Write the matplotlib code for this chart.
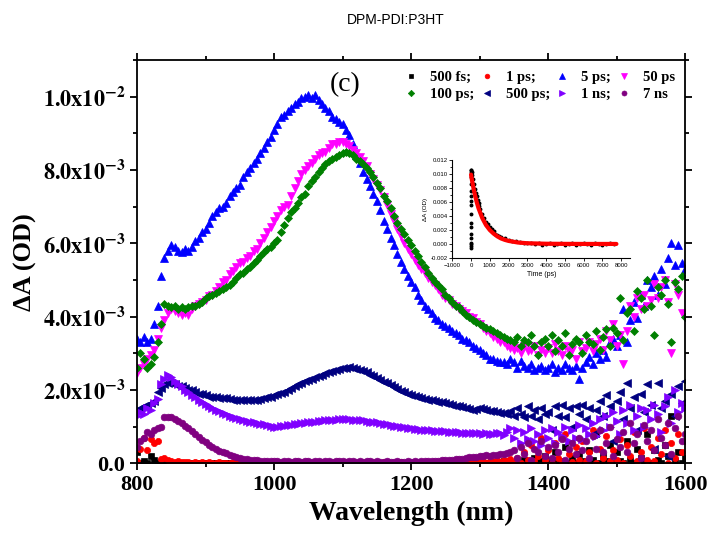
import numpy as np
import matplotlib
matplotlib.use('Agg')
import matplotlib.pyplot as plt
from matplotlib.ticker import MultipleLocator, FuncFormatter

### data (dA in units of 1e-3 OD) ###############################

wavelength = np.arange(800, 1605, 5)

a_500fs = [
    0.3, 0.02, 0.05, 0.0, 0.2, 0.08, 0.0, 0.03, 0.01, 0.0,
    0.0, 0.01, 0.0, 0.0, 0.01, 0.0, 0.0, 0.01, 0.0, 0.0,
    0.0, 0.0, 0.01, 0.0, 0.0, 0.0, 0.01, 0.0, 0.0, 0.0,
    0.0, 0.0, 0.0, 0.01, 0.0, 0.0, 0.0, 0.0, 0.01, 0.0,
    0.0, 0.0, 0.0, 0.0, 0.0, 0.01, 0.0, 0.0, 0.0, 0.0,
    0.0, 0.01, 0.0, 0.0, 0.0, 0.0, 0.0, 0.01, 0.0, 0.0,
    0.0, 0.0, 0.0, 0.0, 0.01, 0.0, 0.0, 0.0, 0.0, 0.0,
    0.0, 0.0, 0.01, 0.0, 0.0, 0.0, 0.0, 0.0, 0.01, 0.0,
    0.0, 0.0, 0.0, 0.0, 0.0, 0.01, 0.0, 0.0, 0.0, 0.0,
    0.01, 0.0, 0.0, 0.0, 0.0, 0.0, 0.02, 0.0, 0.0, 0.0,
    0.0, 0.02, 0.0, 0.0, 0.03, 0.0, 0.0, 0.05, 0.0, 0.02,
    0.0, 0.05, 0.0, 0.1, 0.02, 0.0, 0.15, 0.0, 0.05, 0.2,
    0.0, 0.1, 0.3, 0.0, 0.05, 0.45, 0.0, 0.15, 0.0, 0.25,
    0.05, 0.0, 0.35, 0.1, 0.8, 0.0, 0.2, 0.05, 0.5, 0.0,
    0.3, 0.05, 0.0, 0.6, 0.1, 0.0, 0.4, 0.15, 0.05, 0.8,
    0.0, 0.35, 0.1, 0.0, 0.5, 0.2, 1.3, 0.05, 0.3, 0.0,
    0.15]

a_1ps = [
    0.05, 0.4, 0.7, 0.35, 0.65, 0.55, 0.6, 0.12, 0.15, 0.1,
    0.06, 0.04, 0.05, 0.03, 0.04, 0.03, 0.02, 0.03, 0.02, 0.03,
    0.02, 0.03, 0.02, 0.02, 0.03, 0.02, 0.01, 0.02, 0.03, 0.02,
    0.02, 0.01, 0.02, 0.03, 0.02, 0.02, 0.01, 0.02, 0.02, 0.03,
    0.02, 0.02, 0.01, 0.02, 0.03, 0.02, 0.02, 0.01, 0.02, 0.02,
    0.03, 0.02, 0.01, 0.02, 0.02, 0.03, 0.02, 0.02, 0.01, 0.02,
    0.02, 0.03, 0.02, 0.01, 0.02, 0.02, 0.02, 0.03, 0.02, 0.01,
    0.02, 0.02, 0.03, 0.02, 0.02, 0.01, 0.02, 0.03, 0.02, 0.02,
    0.01, 0.02, 0.02, 0.03, 0.02, 0.02, 0.01, 0.02, 0.03, 0.02,
    0.02, 0.03, 0.02, 0.02, 0.04, 0.02, 0.03, 0.02, 0.04, 0.03,
    0.03, 0.05, 0.02, 0.06, 0.04, 0.08, 0.03, 0.1, 0.05, 0.12,
    0.04, 0.15, 0.02, 0.3, 0.08, 0.5, 0.05, 0.2, 0.7, 0.1,
    0.35, 0.02, 0.55, 0.15, 0.05, 0.8, 0.25, 0.03, 0.45, 0.1,
    0.6, 0.05, 0.3, 0.9, 0.02, 0.4, 0.15, 0.75, 0.05, 0.35,
    0.1, 0.65, 0.02, 0.5, 0.2, 0.85, 0.05, 0.3, 0.95, 0.1,
    0.45, 0.05, 0.7, 0.25, 0.9, 0.02, 0.55, 0.15, 0.8, 0.3,
    0.6]

a_5ps = [
    3.4, 3.3, 3.45, 3.3, 3.4, 3.8, 4.3, 5.1, 5.6, 5.8,
    5.95, 5.9, 5.8, 5.75, 5.85, 5.8, 5.9, 6.05, 6.15, 6.3,
    6.4, 6.55, 6.75, 6.85, 6.95, 7.0, 7.1, 7.3, 7.4, 7.5,
    7.6, 7.8, 7.95, 8.05, 8.2, 8.3, 8.45, 8.6, 8.75, 8.9,
    9.1, 9.25, 9.45, 9.5, 9.6, 9.7, 9.8, 9.85, 9.95, 10.0,
    10.05, 9.95, 10.05, 9.9, 9.8, 9.7, 9.6, 9.45, 9.4, 9.3,
    9.25, 9.1, 8.95, 8.7, 8.4, 8.2, 7.95, 7.75, 7.55, 7.35,
    7.15, 6.9, 6.6, 6.4, 6.15, 5.95, 5.7, 5.5, 5.3, 5.1,
    4.95, 4.8, 4.6, 4.45, 4.3, 4.2, 4.1, 3.95, 3.9, 3.8,
    3.75, 3.7, 3.6, 3.55, 3.5, 3.4, 3.35, 3.3, 3.2, 3.15,
    3.1, 3.0, 2.95, 2.85, 2.85, 2.8, 2.75, 2.75, 2.7, 2.85,
    2.75, 2.6, 2.8, 2.65, 2.6, 2.7, 2.55, 2.6, 2.65, 2.55,
    2.6, 2.7, 2.5, 2.6, 2.55, 2.7, 2.6, 2.55, 2.65, 2.3,
    2.6, 2.75, 2.9, 2.7, 3.0, 2.85, 3.1, 2.9, 3.3, 3.4,
    3.2, 3.5, 4.2, 3.3, 3.9, 4.4, 3.95, 4.6, 4.3, 5.0,
    4.8, 5.1, 4.6, 5.3, 4.9, 5.6, 6.0, 5.4, 5.95, 5.45,
    5.3]

a_50ps = [
    2.45, 2.6, 2.7, 2.85, 2.95, 3.1, 3.4, 3.7, 3.9, 4.1,
    4.2, 4.15, 4.1, 4.05, 4.1, 4.05, 4.2, 4.3, 4.35, 4.4,
    4.45, 4.55, 4.6, 4.7, 4.8, 4.95, 5.0, 5.15, 5.25, 5.35,
    5.45, 5.5, 5.6, 5.65, 5.8, 5.85, 6.0, 6.15, 6.3, 6.45,
    6.6, 6.75, 6.9, 7.0, 7.05, 7.3, 7.5, 7.7, 7.9, 8.0,
    8.1, 8.2, 8.3, 8.4, 8.45, 8.5, 8.6, 8.7, 8.7, 8.75,
    8.75, 8.7, 8.65, 8.55, 8.45, 8.35, 8.25, 8.1, 7.9, 7.75,
    7.6, 7.45, 7.25, 7.05, 6.8, 6.6, 6.4, 6.2, 6.0, 5.85,
    5.7, 5.55, 5.4, 5.3, 5.2, 5.05, 4.95, 4.85, 4.75, 4.6,
    4.5, 4.45, 4.35, 4.3, 4.2, 4.15, 4.1, 4.0, 3.95, 3.85,
    3.8, 3.7, 3.6, 3.55, 3.45, 3.4, 3.3, 3.3, 3.2, 3.15,
    3.1, 3.15, 3.0, 3.2, 3.05, 3.1, 3.2, 2.95, 3.1, 3.0,
    3.15, 3.0, 3.25, 3.05, 2.95, 3.2, 3.05, 3.1, 2.85, 3.3,
    3.05, 3.15, 3.3, 3.05, 3.25, 3.4, 3.1, 3.6, 3.35, 3.8,
    3.2, 3.5, 2.7, 3.6, 4.3, 4.0, 4.5, 4.2, 4.6, 4.3,
    4.45, 4.9, 4.5, 4.8, 5.0, 4.4, 3.0, 4.9, 4.6, 4.1,
    4.0]

a_100ps = [
    2.6, 3.0, 2.85, 2.6, 2.7, 2.9, 3.3, 3.8, 4.35, 4.3,
    4.25, 4.3, 4.2, 4.25, 4.2, 4.25, 4.3, 4.3, 4.35, 4.4,
    4.5, 4.55, 4.6, 4.65, 4.7, 4.75, 4.8, 4.85, 4.95, 5.05,
    5.15, 5.2, 5.3, 5.35, 5.45, 5.55, 5.65, 5.75, 5.85, 5.9,
    6.0, 6.1, 6.3, 6.5, 6.7, 6.85, 6.95, 7.1, 7.25, 7.35,
    7.55, 7.7, 7.8, 7.95, 8.05, 8.15, 8.25, 8.3, 8.35, 8.4,
    8.45, 8.5, 8.45, 8.4, 8.3, 8.25, 8.15, 8.05, 7.95, 7.8,
    7.65, 7.5, 7.3, 7.15, 6.95, 6.75, 6.55, 6.4, 6.25, 6.1,
    5.95, 5.8, 5.65, 5.5, 5.35, 5.2, 5.05, 4.95, 4.85, 4.75,
    4.6, 4.5, 4.4, 4.3, 4.25, 4.15, 4.05, 4.0, 3.9, 3.85,
    3.8, 3.75, 3.7, 3.65, 3.6, 3.55, 3.5, 3.45, 3.4, 3.35,
    3.3, 3.45, 3.2, 3.35, 3.3, 3.5, 3.2, 2.95, 3.3, 3.4,
    3.2, 3.5, 3.05, 3.35, 3.2, 3.55, 2.95, 3.25, 3.4, 3.3,
    3.0, 3.5, 3.3, 3.25, 3.6, 3.1, 3.45, 3.65, 3.2, 3.7,
    3.55, 4.5, 3.35, 4.1, 4.2, 3.6, 4.7, 4.5, 4.2, 5.0,
    4.3, 3.5, 4.8, 4.6, 5.0, 4.35, 3.3, 4.95, 4.75, 5.1,
    4.0]

a_500ps = [
    1.45, 1.5, 1.55, 1.6, 1.65, 1.7, 1.95, 2.05, 2.15, 2.2,
    2.2, 2.15, 2.1, 2.1, 2.05, 2.0, 2.0, 1.95, 1.9, 1.9,
    1.85, 1.82, 1.8, 1.8, 1.78, 1.77, 1.77, 1.75, 1.74, 1.73,
    1.73, 1.72, 1.73, 1.72, 1.73, 1.73, 1.75, 1.77, 1.8, 1.82,
    1.85, 1.88, 1.92, 1.95, 2.0, 2.05, 2.1, 2.15, 2.2, 2.25,
    2.28, 2.3, 2.35, 2.38, 2.42, 2.45, 2.5, 2.53, 2.55, 2.58,
    2.6, 2.6, 2.62, 2.6, 2.58, 2.55, 2.52, 2.48, 2.42, 2.37,
    2.32, 2.27, 2.22, 2.18, 2.14, 2.08, 2.03, 1.98, 1.95, 1.9,
    1.87, 1.84, 1.82, 1.79, 1.76, 1.74, 1.72, 1.7, 1.68, 1.66,
    1.64, 1.62, 1.6, 1.57, 1.55, 1.53, 1.5, 1.48, 1.46, 1.48,
    1.5, 1.47, 1.45, 1.43, 1.42, 1.4, 1.38, 1.37, 1.35, 1.42,
    1.3, 1.5, 1.35, 1.25, 1.55, 1.3, 1.45, 1.2, 1.5, 1.35,
    1.4, 0.9, 1.55, 1.3, 1.6, 1.25, 1.5, 1.0, 1.55, 1.35,
    1.6, 1.2, 1.5, 0.8, 1.45, 1.7, 1.3, 1.85, 1.55, 0.6,
    1.7, 1.95, 1.2, 2.2, 1.5, 1.8, 0.9, 1.9, 1.4, 2.15,
    1.6, 0.4, 2.2, 1.5, 1.7, 0.2, 1.9, 1.3, 2.1, 1.65,
    2.25]

a_1ns = [
    1.3, 1.4, 1.35, 1.5, 1.45, 1.65, 1.75, 2.15, 2.3, 2.4,
    2.35, 2.25, 2.15, 2.1, 2.0, 1.95, 1.85, 1.8, 1.72, 1.68,
    1.62, 1.55, 1.5, 1.45, 1.42, 1.38, 1.35, 1.3, 1.27, 1.24,
    1.21, 1.18, 1.16, 1.14, 1.12, 1.1, 1.08, 1.06, 1.04, 1.02,
    1.0, 1.0, 1.02, 1.02, 1.04, 1.05, 1.07, 1.08, 1.09, 1.1,
    1.12, 1.13, 1.14, 1.15, 1.15, 1.17, 1.18, 1.18, 1.19, 1.2,
    1.2, 1.21, 1.2, 1.19, 1.19, 1.18, 1.17, 1.16, 1.14, 1.13,
    1.12, 1.1, 1.08, 1.06, 1.05, 1.03, 1.01, 0.99, 0.98, 0.96,
    0.95, 0.94, 0.93, 0.92, 0.91, 0.9, 0.9, 0.89, 0.88, 0.88,
    0.87, 0.86, 0.86, 0.85, 0.85, 0.84, 0.84, 0.83, 0.82, 0.84,
    0.82, 0.8, 0.83, 0.81, 0.8, 0.82, 0.84, 0.78, 0.85, 0.95,
    0.7, 0.9, 0.55, 0.85, 0.65, 0.95, 0.6, 0.8, 0.5, 0.9,
    0.7, 0.95, 0.55, 0.85, 0.75, 1.0, 0.6, 0.9, 0.7, 1.05,
    0.65, 0.95, 0.8, 1.1, 0.75, 1.2, 0.9, 1.3, 1.0, 1.4,
    1.15, 0.8, 1.45, 1.1, 1.6, 0.9, 1.3, 1.5, 1.0, 1.45,
    1.2, 1.6, 1.35, 0.85, 1.55, 1.8, 1.1, 2.0, 1.4, 1.65,
    1.5]

a_7ns = [
    0.45, 0.6, 0.7, 0.85, 0.8, 0.9, 0.95, 1.0, 1.25, 1.27,
    1.25, 1.2, 1.15, 1.1, 1.02, 0.95, 0.87, 0.8, 0.72, 0.64,
    0.57, 0.5, 0.45, 0.39, 0.34, 0.3, 0.27, 0.23, 0.2, 0.17,
    0.15, 0.13, 0.11, 0.1, 0.09, 0.08, 0.07, 0.07, 0.06, 0.06,
    0.05, 0.06, 0.04, 0.05, 0.07, 0.04, 0.05, 0.06, 0.04, 0.05,
    0.05, 0.04, 0.06, 0.05, 0.04, 0.05, 0.06, 0.04, 0.05, 0.06,
    0.05, 0.04, 0.06, 0.05, 0.04, 0.05, 0.04, 0.06, 0.05, 0.04,
    0.05, 0.04, 0.04, 0.05, 0.03, 0.04, 0.05, 0.04, 0.03, 0.05,
    0.04, 0.05, 0.04, 0.05, 0.06, 0.05, 0.06, 0.07, 0.06, 0.08,
    0.08, 0.09, 0.1, 0.11, 0.12, 0.13, 0.15, 0.16, 0.18, 0.17,
    0.2, 0.19, 0.22, 0.21, 0.24, 0.23, 0.26, 0.25, 0.28, 0.3,
    0.35, 0.15, 0.45, 0.25, 0.55, 0.1, 0.4, 0.3, 0.6, 0.2,
    0.45, 0.15, 0.5, 0.3, 0.65, 0.1, 0.4, 0.55, 0.25, 0.7,
    0.35, 0.6, 0.15, 0.75, 0.4, 0.9, 0.3, 0.55, 1.0, 0.2,
    0.65, 0.45, 0.85, 0.3, 1.1, 0.55, 0.8, 0.15, 1.05, 0.6,
    0.9, 0.35, 1.2, 0.7, 0.5, 1.1, 0.25, 0.95, 1.3, 0.6,
    0.8]

# inset: kinetic trace (black dots) and its fit (red line)
t_kin = [0, 0, 0, 0, 0, 0, 0, 0, 0, 0, 0, 0, 0, 0, 0, 0, 0,
         10, 30, 60, 100, 150, 200, 250, 300, 350, 400, 450, 500, 600, 700,
         800, 900, 1000, 1100, 1200, 1300, 1400, 1500, 1600, 1800, 2000,
         2200, 2400, 2600, 2800, 3000, 3200, 3400, 3600, 3800, 4000, 4200,
         4400, 4600, 4800, 5000, 5200, 5400, 5600, 5800, 6000, 6200, 6400,
         6600, 6800, 7000, 7200, 7400, 7600]
a_kin = [-0.0005, -0.0003, 0.0, 0.0002, 0.0008, 0.0015, 0.0025, 0.003,
         0.0043, 0.0055, 0.0062, 0.0068, 0.0075, 0.0085, 0.0095, 0.0102,
         0.0106, 0.0105, 0.0103, 0.0098, 0.0093, 0.0086, 0.0079, 0.0073,
         0.0068, 0.0063, 0.0058, 0.0054, 0.005, 0.0043, 0.0037, 0.0032,
         0.0028, 0.0024, 0.0021, 0.0018, 0.0015, 0.0013, 0.0011, 0.001,
         0.0008, 0.0006, 0.0005, 0.0004, 0.0003, 0.0002, 0.0002, 0.0001,
         0.0, 0.0001, -0.0001, 0.0, 0.0001, -0.0001, 0.0, 0.0001, -0.0001,
         0.0, 0.0001, -0.0001, 0.0, 0.0001, 0.0, -0.0001, 0.0001, 0.0,
         -0.0001, 0.0, 0.0001, 0.0]
t_fit = [0, 50, 100, 150, 200, 300, 400, 500, 600, 700, 800, 1000, 1200,
         1400, 1600, 1800, 2000, 2500, 3000, 4000, 5000, 6000, 7000, 7750]
a_fit = [0.0099, 0.0091, 0.0084, 0.0077, 0.0071, 0.006, 0.0051, 0.0044,
         0.0037, 0.0032, 0.0027, 0.002, 0.0015, 0.0011, 0.0008, 0.0006,
         0.00045, 0.00022, 0.00012, 0.00005, 0.00003, 0.00002, 0.00002,
         0.00002]

series = [
    ('500 fs;', a_500fs, 's', 'black', 4.0),
    ('1 ps;', a_1ps, 'o', 'red', 4.5),
    ('5 ps;', a_5ps, '^', 'blue', 5.5),
    ('50 ps', a_50ps, 'v', 'magenta', 5.5),
    ('100 ps;', a_100ps, 'D', 'green', 4.3),
    ('500 ps;', a_500ps, '<', 'navy', 5.5),
    ('1 ns;', a_1ns, '>', '#8000FF', 5.5),
    ('7 ns', a_7ns, 'o', 'purple', 4.8),
]

####################

plt.rcParams['mathtext.fontset'] = 'stix'
serif = 'Liberation Serif'

fig = plt.figure(figsize=(7.1, 5.4), dpi=100)
ax = fig.add_axes([0.193, 0.142, 0.772, 0.747])

handles = []
for label, vals, mk, col, ms in series:
    h, = ax.plot(wavelength, np.array(vals) * 1e-3, ls='none', marker=mk,
                 ms=ms, color=col, mec=col, mew=0.5, label=label)
    handles.append(h)

ax.set_xlim(800, 1600)
ax.set_ylim(0, 0.011)
ax.xaxis.set_major_locator(MultipleLocator(200))
ax.xaxis.set_minor_locator(MultipleLocator(100))
ax.yaxis.set_major_locator(MultipleLocator(0.002))
ax.yaxis.set_minor_locator(MultipleLocator(0.001))

def yfmt(v, pos):
    if v < 1e-12:
        return '0.0' if abs(v) < 1e-12 else ''
    e = int(np.floor(np.log10(v) + 1e-9))
    m = v / 10 ** e
    return r'$\mathbf{%.1fx10^{%d}}$' % (m, e)

ax.yaxis.set_major_formatter(FuncFormatter(yfmt))
ax.tick_params(which='both', direction='out', top=True, right=True,
               width=1.3, labelsize=16)
ax.tick_params(which='major', length=5)
ax.tick_params(which='minor', length=3)
for lab in ax.get_xticklabels() + ax.get_yticklabels():
    lab.set_fontfamily(serif)
    lab.set_fontweight('bold')
for s in ax.spines.values():
    s.set_linewidth(1.3)

ax.set_xlabel('Wavelength (nm)', fontsize=20, fontweight='bold',
              fontfamily=serif, labelpad=4)
ax.set_ylabel('\u0394A (OD)', fontsize=19, fontweight='bold',
              fontfamily=serif, labelpad=4)

ax.text(0.38, 0.94, '(c)', transform=ax.transAxes, ha='center', va='center',
        fontsize=20, fontfamily=serif)

# legend reads row by row: 4 columns, 2 rows
order = [0, 4, 1, 5, 2, 6, 3, 7]
ax.legend([handles[i] for i in order], [series[i][0] for i in order],
          ncol=4, loc='upper right', bbox_to_anchor=(1.005, 1.006),
          frameon=False, columnspacing=0.35, handletextpad=0.8,
          handlelength=1.0, labelspacing=0.26, markerscale=0.75,
          prop={'family': serif, 'weight': 'bold', 'size': 10.5})

fig.text(0.558, 0.963, 'DPM-PDI:P3HT', ha='center', va='center',
         fontsize=10, fontfamily='Liberation Sans')

### inset
ins = fig.add_axes([0.637, 0.522, 0.251, 0.182])
ins.plot(t_kin, a_kin, ls='none', marker='o', ms=1.8, color='black')
ins.plot(t_fit, a_fit, color='red', lw=3, solid_capstyle='round')
ins.set_xlim(-1000, 8500)
ins.set_ylim(-0.002, 0.012)
ins.xaxis.set_major_locator(MultipleLocator(1000))
ins.yaxis.set_major_locator(MultipleLocator(0.002))
ins.yaxis.set_minor_locator(MultipleLocator(0.001))
ins.yaxis.set_major_formatter(FuncFormatter(lambda v, p: '%.3f' % v))
ins.spines['top'].set_visible(False)
ins.spines['right'].set_visible(False)
ins.tick_params(which='both', direction='out', labelsize=4.3, width=0.6,
                pad=1.5)
ins.tick_params(which='major', length=2)
ins.tick_params(which='minor', length=1.2)
for lab in ins.get_xticklabels() + ins.get_yticklabels():
    lab.set_fontfamily('Liberation Sans')
ins.set_xlabel('Time (ps)', fontsize=5, fontfamily='Liberation Sans',
               labelpad=2)
ins.set_ylabel('\u0394A (OD)', fontsize=4.5, fontfamily='Liberation Sans',
               labelpad=2)

fig.savefig('out.png', dpi=100)
